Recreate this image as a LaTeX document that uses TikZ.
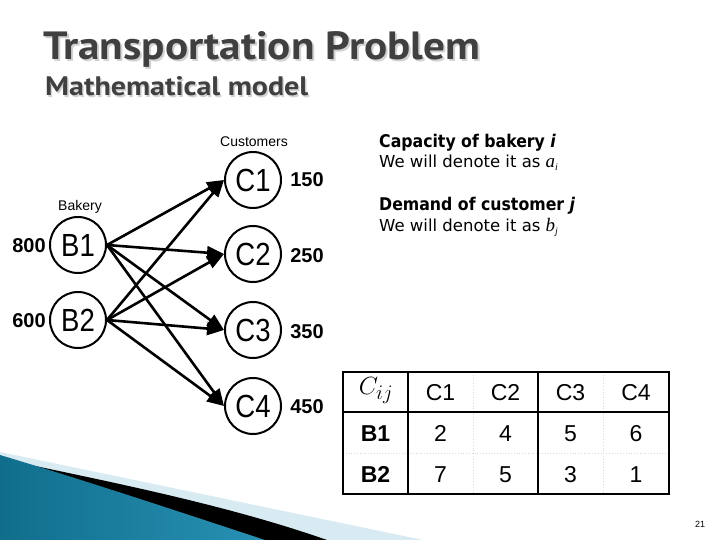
\documentclass[tikz,border=0pt]{standalone}
\usepackage{fontspec}
\setmainfont{Liberation Sans}
\newfontfamily\titlefont{PT Sans}
\newfontfamily\bodyfont{DejaVu Sans}
\newfontfamily\bodycondfont{DejaVu Sans Condensed}
\newfontfamily\serifit{Liberation Serif}
\usetikzlibrary{arrows.meta}
\definecolor{titlegray}{HTML}{404040}
\definecolor{shadowgray}{HTML}{D2D2D2}
\definecolor{lightblue}{HTML}{D8EBF2}
\definecolor{tealdark}{RGB}{16,110,140}
\definecolor{tealmid}{RGB}{75,175,210}
\definecolor{tealright}{RGB}{40,145,180}
\newcommand{\circtext}[1]{\scalebox{0.86}[1]{#1}}
\newcommand{\symsub}[2]{{\fontsize{19}{19}\selectfont\serifit\itshape #1}\raisebox{-3pt}{\fontsize{10}{10}\selectfont\serifit\itshape #2}}
% text with a soft drop shadow, as one text box
\newcommand{\shadowed}[4]{\makebox[0pt][l]{\raisebox{-#4}{\hspace*{#4}\textcolor{shadowgray}{\resizebox{#2}{#3}{\titlefont\bfseries #1}}}}\textcolor{titlegray}{\resizebox{#2}{#3}{\titlefont\bfseries #1}}}
\tikzset{
  circnode/.style={circle, draw, line width=2pt, minimum size=56pt, inner sep=0pt,
    font=\fontsize{32}{32}\selectfont},
  arr/.style={line width=2.6pt, -{Triangle[length=17pt,width=13pt]}},
  qty/.style={font=\bfseries\fontsize{20}{20}\selectfont, text height=14pt, text depth=0pt},
  grp/.style={font=\fontsize{14}{14}\selectfont},
  cell/.style={font=\fontsize{23}{23}\selectfont, text height=16.5pt, text depth=0pt, inner sep=0pt},
  bcell/.style={cell, font=\bfseries\fontsize{23}{23}\selectfont},
  boldtxt/.style={anchor=base west, inner sep=0pt, font=\bodycondfont\bfseries\fontsize{17.5}{20}\selectfont},
  regtxt/.style={anchor=base west, inner sep=0pt, font=\bodyfont\fontsize{16.5}{18}\selectfont},
  grid/.style={draw=black, line width=1.2pt},
  faint/.style={draw=black!15, dotted, line width=0.8pt}
}
\begin{document}
\begin{tikzpicture}[x=1pt,y=-1pt]
\useasboundingbox (0,0) rectangle (720,540);
% bottom decoration
\fill[lightblue] (0,452) -- (423,540) -- (0,540) -- cycle;
\fill[black] (26,464) .. controls (120,484) and (230,506) .. (327,540) -- (0,540) -- cycle;
\shade[left color=tealdark, middle color=tealmid, right color=tealright]
  (0,455) .. controls (90,482) and (180,512) .. (265,540) -- (0,540) -- cycle;

% title
\node[anchor=base west, inner sep=0pt] (title) at (43,60)
  {\shadowed{Transportation Problem}{437pt}{28pt}{2pt}};
\node[anchor=base west, inner sep=0pt] (subtitle) at (45,96)
  {\shadowed{Mathematical model}{263pt}{19pt}{1.5pt}};

% graph
\node[circnode] (b1) at (78,245) {\circtext{B1}};
\node[circnode] (b2) at (78,320) {\circtext{B2}};
\node[circnode] (c1) at (253,180) {\circtext{C1}};
\node[circnode] (c2) at (253,254) {\circtext{C2}};
\node[circnode] (c3) at (253,330) {\circtext{C3}};
\node[circnode] (c4) at (253,406) {\circtext{C4}};

\node[grp] (bakery) at (80,207) {Bakery};
\node[grp] (customers) at (254,142) {Customers};

\node[qty] (s1) at (29,245) {800};
\node[qty] (s2) at (29,320) {600};
\node[qty] (d1) at (307,180) {150};
\node[qty] (d2) at (307,255) {250};
\node[qty] (d3) at (307,331) {350};
\node[qty] (d4) at (307,406) {450};

\foreach \b in {b1,b2}
  \foreach \c in {c1,c2,c3,c4}
    \draw[arr] (\b.east) -- (\c.west);

% right text
\node[boldtxt] (cap) at (379,148) {Capacity of bakery \textit{i}};
\node[regtxt] (capd) at (379,168) {We will denote it as \symsub{a}{i}};
\node[boldtxt] (dem) at (379,211) {Demand of customer \textit{j}};
\node[regtxt] (demd) at (379,231) {We will denote it as \symsub{b}{j}};

% table
\draw[faint] (343,453) -- (669,453);
\draw[faint] (473,372) -- (473,494);
\draw[faint] (603,372) -- (603,494);
\draw[grid] (343,372) rectangle (669,494);
\draw[grid] (343,412) -- (669,412);
\draw[grid] (408,372) -- (408,494);
\draw[grid] (538,372) -- (538,494);

\node[font=\fontsize{30}{30}\selectfont] (cij) at (376,391) {$C_{ij}$};
\node[cell] (h1) at (440.5,392) {C1};
\node[cell] (h2) at (505.5,392) {C2};
\node[cell] (h3) at (570.5,392) {C3};
\node[cell] (h4) at (636,392) {C4};
\node[bcell] (r1) at (375.5,433) {B1};
\node[bcell] (r2) at (375.5,474) {B2};
\node[cell] (v11) at (440.5,433) {2};
\node[cell] (v12) at (505.5,433) {4};
\node[cell] (v13) at (570.5,433) {5};
\node[cell] (v14) at (636,433) {6};
\node[cell] (v21) at (440.5,474) {7};
\node[cell] (v22) at (505.5,474) {5};
\node[cell] (v23) at (570.5,474) {3};
\node[cell] (v24) at (636,474) {1};

\node[font=\fontsize{9}{9}\selectfont] (pagenum) at (700,524) {21};
\end{tikzpicture}
\end{document}
